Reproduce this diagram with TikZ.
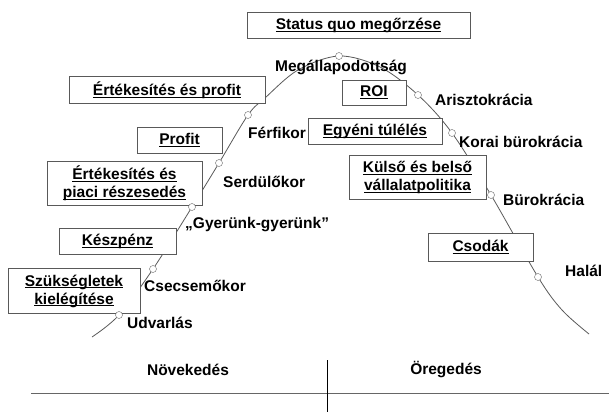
\documentclass[tikz,border=0pt]{standalone}
\usepackage{fontspec}
\setmainfont{Liberation Sans}
\usetikzlibrary{positioning}
\newcommand{\undl}[1]{\underline{\raisebox{0pt}[\height][0pt]{#1}}}

\begin{document}
\begin{tikzpicture}[x=1pt,y=-1pt,
  font=\fontsize{15.5}{18}\selectfont\bfseries,
  goal/.style={draw=black!65,fill=white,align=center,inner sep=0pt},
  stage/.style={anchor=west,inner sep=0pt},
  phase/.style={inner sep=0pt},
  dot/.style={circle,draw=black!60,fill=white,inner sep=0pt,minimum size=7pt},
  life/.style={draw=black!65,line width=0.8pt},
  axis/.style={draw=black!60,line width=0.9pt}]
  \useasboundingbox (0,0) rectangle (609,412);

  \coordinate (Start)  at (92,337);
  \coordinate (Udv)    at (119,315);
  \coordinate (Csecs)  at (153,269);
  \coordinate (Gyer)   at (192,207);
  \coordinate (Serd)   at (219,163);
  \coordinate (Ferf)   at (248,115);
  \coordinate (Megall) at (339,56);
  \coordinate (Ariszt) at (418,95);
  \coordinate (Korai)  at (452,133);
  \coordinate (Burok)  at (491,195);
  \coordinate (Halal)  at (538,277);
  \coordinate (End)    at (589,334);

  \draw[life] plot[smooth,tension=0.55] coordinates {(Start) (Udv) (Csecs) (Gyer) (Serd) (Ferf)
    (265,98) (298,70) (Megall) (380,67) (Ariszt) (Korai) (Burok) (Halal) (562,310) (End)};

  \node[goal,minimum width=223pt,minimum height=26pt] (Status)  at (358.5,25)  {\undl{Status quo megőrzése}};
  \node[goal,minimum width=196pt,minimum height=27pt] (ErtProf) at (167,89.5)  {\undl{Értékesítés és profit}};
  \node[goal,minimum width=85pt,minimum height=26pt]  (Profit)  at (179.5,140) {\undl{Profit}};
  \node[goal,minimum width=155pt,minimum height=44pt] (ErtPiac) at (124.5,183) {\undl{Értékesítés és}\\\undl{piaci részesedés}};
  \node[goal,minimum width=117pt,minimum height=26pt] (Kesz)    at (117.5,241) {\undl{Készpénz}};
  \node[goal,minimum width=132pt,minimum height=45pt] (Szuks)   at (74,290.5)  {\undl{Szükségletek}\\\undl{kielégítése}};
  \node[goal,minimum width=64pt,minimum height=25pt]  (ROI)     at (374,92.5)  {\undl{ROI}};
  \node[goal,minimum width=134pt,minimum height=26pt] (Egyeni)  at (375,131)   {\undl{Egyéni túlélés}};
  \node[goal,minimum width=137pt,minimum height=44pt] (Kulso)   at (417.5,177) {\undl{Külső és belső}\\\undl{vállalatpolitika}};
  \node[goal,minimum width=105pt,minimum height=28pt] (Csodak)  at (480.5,247) {\undl{Csodák}};

  \foreach \p in {Udv,Csecs,Gyer,Serd,Ferf,Megall,Ariszt,Korai,Burok,Halal}
    \node[dot] (dot-\p) at (\p) {};

  \node[phase] (MegallL) at (341,67) {Megállapodottság};
  \node[stage] (FerfL)   at (248,133) {Férfikor};
  \node[stage] (SerdL)   at (223,182) {Serdülőkor};
  \node[stage] (GyerL)   at (185,225) {„Gyerünk-gyerünk”};
  \node[stage] (CsecsL)  at (144,286) {Csecsemőkor};
  \node[stage] (UdvL)    at (127,323) {Udvarlás};
  \node[stage] (AriszL)  at (435,100) {Arisztokrácia};
  \node[stage] (KoraiL)  at (459,142) {Korai bürokrácia};
  \node[stage] (BurokL)  at (503,200) {Bürokrácia};
  \node[stage] (HalalL)  at (565,271) {Halál};

  \node[phase] (Novek) at (188,370) {Növekedés};
  \node[phase] (Oreg)  at (446,370) {Öregedés};

  \coordinate (AxisL)  at (31,393);
  \coordinate (AxisR)  at (609,393);
  \coordinate (SplitT) at (327,360);
  \coordinate (SplitB) at (327,412);
  \draw[axis] (AxisL) -- (AxisR);
  \draw[black,line width=0.8pt] (SplitT) -- (SplitB);
\end{tikzpicture}
\end{document}
